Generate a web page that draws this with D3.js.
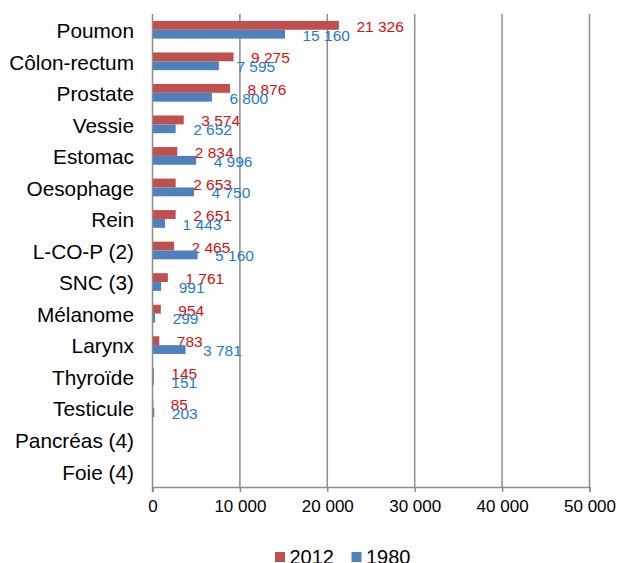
<!DOCTYPE html>
<html>
<head>
<meta charset="utf-8">
<script src="https://cdn.jsdelivr.net/npm/d3@7"></script>
<style>
  html, body { margin: 0; padding: 0; background: #fff; }
  svg { display: block; font-family: "Liberation Sans", Arial, sans-serif; }
</style>
</head>
<body>
<svg id="chart" width="619" height="563"></svg>
<script>
// Cancer sites, most frequent first (2012 incidence, men)
const categories = ["Poumon", "Côlon-rectum", "Prostate", "Vessie", "Estomac", "Oesophage",
  "Rein", "L-CO-P (2)", "SNC (3)", "Mélanome", "Larynx", "Thyroïde", "Testicule",
  "Pancréas (4)", "Foie (4)"];
const values2012 = [21326, 9275, 8876, 3574, 2834, 2653, 2651, 2465, 1761, 954, 783, 145, 85, null, null];
const values1980 = [15160, 7595, 6800, 2652, 4996, 4750, 1443, 5160, 991, 299, 3781, 151, 203, null, null];
const seriesNames = ["2012", "1980"];
const xTicks = [0, 10000, 20000, 30000, 40000, 50000];

const series = [
  { name: seriesNames[0], values: values2012, fill: "#C0504D", text: "#D40F0F" },
  { name: seriesNames[1], values: values1980, fill: "#4F81BD", text: "#1C7CD0" }
];

const svg = d3.select("#chart");
const plotLeft = 152.5, plotRight = 589.5, plotTop = 14, plotBottom = 487;

const locale = d3.formatLocale({ decimal: ",", thousands: "\u00a0", grouping: [3], currency: ["", " €"] });
const fmt = locale.format(",d");

const x = d3.scaleLinear().domain([0, 50000]).range([plotLeft, plotRight]);
const y = d3.scaleBand().domain(categories).range([plotTop, plotBottom]);
const inner = d3.scaleBand().domain(seriesNames).range([0, y.bandwidth()]).paddingOuter(0.78).paddingInner(0);

// vertical gridlines
svg.append("g").selectAll("line").data(xTicks.slice(1)).join("line")
  .attr("x1", d => x(d)).attr("x2", d => x(d))
  .attr("y1", plotTop).attr("y2", plotBottom)
  .attr("stroke", "#8C8C8C").attr("stroke-width", 1.5);

// bars
const groups = svg.append("g").selectAll("g").data(series).join("g");
groups.selectAll("rect")
  .data(s => s.values.map((v, i) => ({ v, c: categories[i], s })).filter(d => d.v != null))
  .join("rect")
  .attr("x", x(0))
  .attr("y", d => y(d.c) + inner(d.s.name))
  .attr("width", d => x(d.v) - x(0))
  .attr("height", inner.bandwidth())
  .attr("fill", d => d.s.fill);

// x axis
const xAxis = d3.axisBottom(x).tickValues(xTicks).tickSize(5).tickPadding(8)
  .tickFormat(d => fmt(d));
const gx = svg.append("g").attr("transform", `translate(0,${plotBottom})`).call(xAxis);
gx.select(".domain").attr("stroke", "#8C8C8C").attr("stroke-width", 1.5);
gx.selectAll(".tick line").attr("stroke", "#8C8C8C").attr("stroke-width", 1.5);
gx.selectAll(".tick text").attr("font-size", 17).attr("fill", "#000")
  .attr("font-family", "Liberation Sans, Arial, sans-serif");

// y axis line
svg.append("line").attr("x1", plotLeft).attr("x2", plotLeft).attr("y1", plotTop).attr("y2", plotBottom + 5)
  .attr("stroke", "#8C8C8C").attr("stroke-width", 1.5);

// category labels
svg.append("g").selectAll("text").data(categories).join("text")
  .attr("x", 134)
  .attr("y", d => y(d) + y.bandwidth() / 2 + 8.3)
  .attr("text-anchor", "end")
  .attr("font-size", 20.8)
  .attr("fill", "#000")
  .text(d => d);

// value labels
groups.selectAll("text")
  .data(s => s.values.map((v, i) => ({ v, c: categories[i], s })).filter(d => d.v != null))
  .join("text")
  .attr("x", d => x(d.v) + 17.5)
  .attr("y", d => y(d.c) + inner(d.s.name) + inner.bandwidth() / 2 + 6.5)
  .attr("font-size", 15.5)
  .attr("fill", d => d.s.text)
  .text(d => fmt(d.v));

// legend
const legendPos = [275, 351.5];
const lg = svg.append("g").selectAll("g").data(series).join("g")
  .attr("transform", (d, i) => `translate(${legendPos[i]},552)`);
lg.append("rect").attr("width", 10).attr("height", 10).attr("fill", d => d.fill);
lg.append("text").attr("x", 14.5).attr("y", 12.3).attr("font-size", 20).attr("fill", "#000")
  .text(d => d.name);
</script>
</body>
</html>
